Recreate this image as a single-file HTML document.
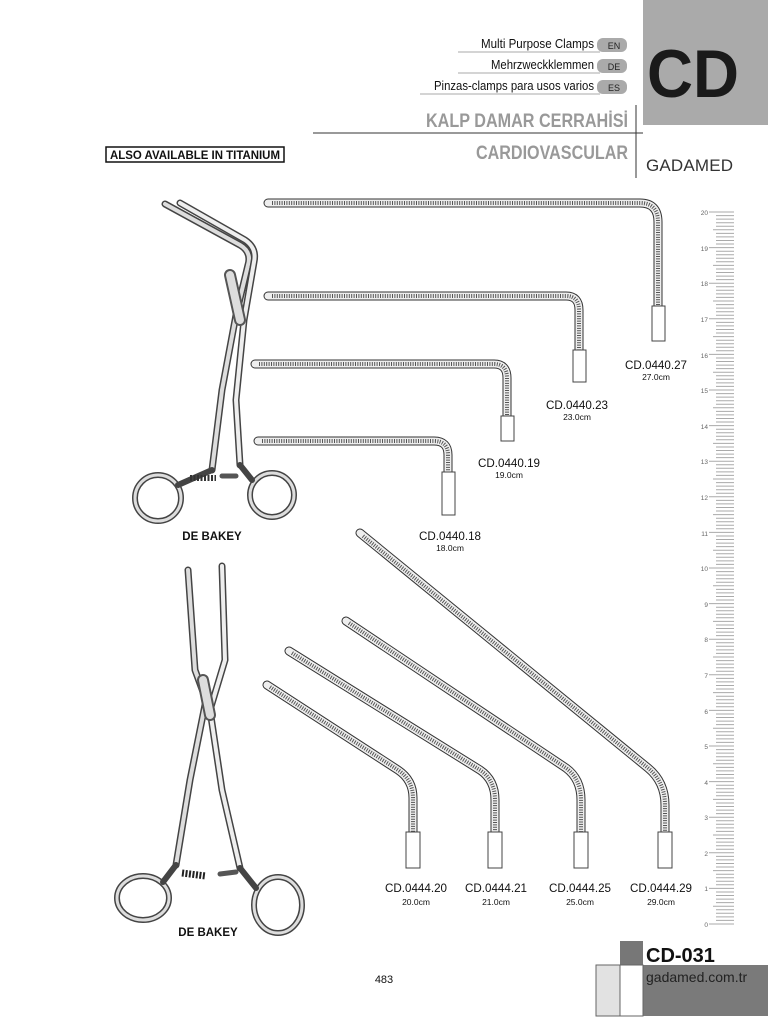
<!DOCTYPE html>
<html><head><meta charset="utf-8"><style>
body{margin:0;background:#fff}
svg{display:block}
text{font-family:"Liberation Sans",sans-serif}
</style></head><body>
<svg width="768" height="1018" viewBox="0 0 768 1018" xmlns="http://www.w3.org/2000/svg">
<!-- header -->
<rect x="643" y="0" width="125" height="125" fill="#aaa"/>
<text x="647" y="97" font-size="68" font-weight="bold" fill="#1a1a1a" textLength="92" lengthAdjust="spacingAndGlyphs">CD</text>
<g font-size="13" fill="#111" text-anchor="end">
<text x="594" y="48" textLength="113" lengthAdjust="spacingAndGlyphs">Multi Purpose Clamps</text>
<text x="594" y="69" textLength="103" lengthAdjust="spacingAndGlyphs">Mehrzweckklemmen</text>
<text x="594" y="90" textLength="160" lengthAdjust="spacingAndGlyphs">Pinzas-clamps para usos varios</text>
</g>
<g stroke="#aaa" stroke-width="1"><line x1="458" y1="52" x2="600" y2="52"/><line x1="458" y1="73" x2="600" y2="73"/><line x1="420" y1="94" x2="600" y2="94"/></g>
<g fill="#aaa"><rect x="597" y="38" width="30" height="14" rx="6"/><rect x="597" y="59" width="30" height="14" rx="6"/><rect x="597" y="80" width="30" height="14" rx="6"/></g>
<g font-size="9" fill="#222" text-anchor="middle"><text x="614" y="49">EN</text><text x="614" y="70">DE</text><text x="614" y="91">ES</text></g>
<line x1="636" y1="105" x2="636" y2="178" stroke="#333" stroke-width="1"/>
<line x1="313" y1="133" x2="643" y2="133" stroke="#333" stroke-width="1"/>
<text x="628" y="127" font-size="19" font-weight="bold" fill="#999" text-anchor="end" textLength="202" lengthAdjust="spacingAndGlyphs">KALP DAMAR CERRAHİSİ</text>
<text x="628" y="159" font-size="19" font-weight="bold" fill="#999" text-anchor="end" textLength="152" lengthAdjust="spacingAndGlyphs">CARDIOVASCULAR</text>
<text x="646" y="171" font-size="17" fill="#333" textLength="87" lengthAdjust="spacing">GADAMED</text>
<rect x="106" y="147" width="178" height="15" fill="none" stroke="#111" stroke-width="1.5"/>
<text x="195" y="159" font-size="11.5" font-weight="bold" fill="#111" text-anchor="middle" textLength="170" lengthAdjust="spacingAndGlyphs">ALSO AVAILABLE IN TITANIUM</text>

<!-- clamps -->
<g fill="none" stroke-linecap="round">
<path d="M268 203 H640 Q658 203 658 222 V306" stroke="#333" stroke-width="9"/>
<path d="M268 203 H640 Q658 203 658 222 V306" stroke="#eee" stroke-width="7"/>
<path d="M272 203 H640 Q658 203 658 222 V306" stroke="#555" stroke-width="4" stroke-dasharray="1 1.4" stroke-linecap="butt"/>
<path d="M268 296 H566 Q579 296 579 310 V350" stroke="#333" stroke-width="9"/>
<path d="M268 296 H566 Q579 296 579 310 V350" stroke="#eee" stroke-width="7"/>
<path d="M272 296 H566 Q579 296 579 310 V350" stroke="#555" stroke-width="4" stroke-dasharray="1 1.4" stroke-linecap="butt"/>
<path d="M255 364 H494 Q507 364 507 378 V416" stroke="#333" stroke-width="9"/>
<path d="M255 364 H494 Q507 364 507 378 V416" stroke="#eee" stroke-width="7"/>
<path d="M259 364 H494 Q507 364 507 378 V416" stroke="#555" stroke-width="4" stroke-dasharray="1 1.4" stroke-linecap="butt"/>
<path d="M258 441 H434 Q448 441 448 455 V472" stroke="#333" stroke-width="9"/>
<path d="M258 441 H434 Q448 441 448 455 V472" stroke="#eee" stroke-width="7"/>
<path d="M262 441 H434 Q448 441 448 455 V472" stroke="#555" stroke-width="4" stroke-dasharray="1 1.4" stroke-linecap="butt"/>

<path d="M360 533 L648 768 Q665 782 665 805 V832" stroke="#333" stroke-width="9"/>
<path d="M360 533 L648 768 Q665 782 665 805 V832" stroke="#eee" stroke-width="7"/>
<path d="M363 536 L648 768 Q665 782 665 805 V832" stroke="#555" stroke-width="4" stroke-dasharray="1 1.4" stroke-linecap="butt"/>
<path d="M346 621 L566 768 Q581 779 581 800 V832" stroke="#333" stroke-width="9"/>
<path d="M346 621 L566 768 Q581 779 581 800 V832" stroke="#eee" stroke-width="7"/>
<path d="M349 623 L566 768 Q581 779 581 800 V832" stroke="#555" stroke-width="4" stroke-dasharray="1 1.4" stroke-linecap="butt"/>
<path d="M289 651 L480 770 Q495 780 495 800 V832" stroke="#333" stroke-width="9"/>
<path d="M289 651 L480 770 Q495 780 495 800 V832" stroke="#eee" stroke-width="7"/>
<path d="M292 653 L480 770 Q495 780 495 800 V832" stroke="#555" stroke-width="4" stroke-dasharray="1 1.4" stroke-linecap="butt"/>
<path d="M267 685 L398 770 Q413 780 413 798 V832" stroke="#333" stroke-width="9"/>
<path d="M267 685 L398 770 Q413 780 413 798 V832" stroke="#eee" stroke-width="7"/>
<path d="M270 687 L398 770 Q413 780 413 798 V832" stroke="#555" stroke-width="4" stroke-dasharray="1 1.4" stroke-linecap="butt"/>
</g>
<g fill="#fff" stroke="#444" stroke-width="1">
<rect x="652" y="306" width="13" height="35"/>
<rect x="573" y="350" width="13" height="32"/>
<rect x="501" y="416" width="13" height="25"/>
<rect x="442" y="472" width="13" height="43"/>
<rect x="658" y="832" width="14" height="36"/>
<rect x="574" y="832" width="14" height="36"/>
<rect x="488" y="832" width="14" height="36"/>
<rect x="406" y="832" width="14" height="36"/>
</g>
<g text-anchor="middle" fill="#111">
<text x="656" y="369" font-size="12" textLength="62" lengthAdjust="spacingAndGlyphs">CD.0440.27</text><text x="656" y="380" font-size="8.5">27.0cm</text>
<text x="577" y="409" font-size="12" textLength="62" lengthAdjust="spacingAndGlyphs">CD.0440.23</text><text x="577" y="420" font-size="8.5">23.0cm</text>
<text x="509" y="467" font-size="12" textLength="62" lengthAdjust="spacingAndGlyphs">CD.0440.19</text><text x="509" y="478" font-size="8.5">19.0cm</text>
<text x="450" y="540" font-size="12" textLength="62" lengthAdjust="spacingAndGlyphs">CD.0440.18</text><text x="450" y="551" font-size="8.5">18.0cm</text>
<text x="416" y="892" font-size="12" textLength="62" lengthAdjust="spacingAndGlyphs">CD.0444.20</text><text x="416" y="905" font-size="8.5">20.0cm</text>
<text x="496" y="892" font-size="12" textLength="62" lengthAdjust="spacingAndGlyphs">CD.0444.21</text><text x="496" y="905" font-size="8.5">21.0cm</text>
<text x="580" y="892" font-size="12" textLength="62" lengthAdjust="spacingAndGlyphs">CD.0444.25</text><text x="580" y="905" font-size="8.5">25.0cm</text>
<text x="661" y="892" font-size="12" textLength="62" lengthAdjust="spacingAndGlyphs">CD.0444.29</text><text x="661" y="905" font-size="8.5">29.0cm</text>
</g>

<!-- forceps top -->
<g fill="none" stroke-linecap="round" stroke-linejoin="round">
<path d="M165 204 L240 245 Q252 252 248 265 L236 315 L222 390 L212 470" stroke="#444" stroke-width="7"/>
<path d="M165 204 L240 245 Q252 252 248 265 L236 315 L222 390 L212 470" stroke="#ddd" stroke-width="4"/>
<path d="M180 203 L245 240 Q257 248 254 262 L244 320 L236 400 L240 465" stroke="#444" stroke-width="7"/>
<path d="M180 203 L245 240 Q257 248 254 262 L244 320 L236 400 L240 465" stroke="#eee" stroke-width="4"/>
<path d="M230 275 L240 320" stroke="#555" stroke-width="12"/>
<path d="M230 275 L240 320" stroke="#ddd" stroke-width="8"/>
<circle cx="158" cy="498" r="23" stroke="#444" stroke-width="6"/><circle cx="158" cy="498" r="23" stroke="#ddd" stroke-width="3"/>
<circle cx="272" cy="495" r="22" stroke="#444" stroke-width="6"/><circle cx="272" cy="495" r="22" stroke="#ddd" stroke-width="3"/>
<path d="M178 485 L212 470" stroke="#444" stroke-width="6"/>
<path d="M252 480 L240 465" stroke="#444" stroke-width="6"/>
<path d="M190 478 L216 478" stroke="#333" stroke-width="6" stroke-dasharray="2 1.5" stroke-linecap="butt"/>
<path d="M222 476 L236 476" stroke="#555" stroke-width="5"/>

<!-- forceps bottom -->
<path d="M188 570 L195 670 L206 700 L190 780 L176 865" stroke="#444" stroke-width="7"/>
<path d="M188 570 L195 670 L206 700 L190 780 L176 865" stroke="#ddd" stroke-width="4"/>
<path d="M222 566 L225 660 L210 710 L222 790 L240 868" stroke="#444" stroke-width="7"/>
<path d="M222 566 L225 660 L210 710 L222 790 L240 868" stroke="#eee" stroke-width="4"/>
<path d="M203 680 L210 715" stroke="#555" stroke-width="12"/>
<path d="M203 680 L210 715" stroke="#ddd" stroke-width="8"/>
<ellipse cx="143" cy="898" rx="26" ry="22" stroke="#444" stroke-width="6"/><ellipse cx="143" cy="898" rx="26" ry="22" stroke="#ddd" stroke-width="3"/>
<ellipse cx="278" cy="905" rx="24" ry="28" stroke="#444" stroke-width="6"/><ellipse cx="278" cy="905" rx="24" ry="28" stroke="#ddd" stroke-width="3"/>
<path d="M163 882 L176 865" stroke="#444" stroke-width="6"/>
<path d="M256 888 L240 868" stroke="#444" stroke-width="6"/>
<path d="M182 873 L206 876" stroke="#222" stroke-width="7" stroke-dasharray="2 1.5" stroke-linecap="butt"/>
<path d="M220 874 L236 872" stroke="#555" stroke-width="5"/>
</g>
<text x="212" y="540" font-size="11.5" font-weight="bold" fill="#111" text-anchor="middle">DE BAKEY</text>
<text x="208" y="936" font-size="11.5" font-weight="bold" fill="#111" text-anchor="middle">DE BAKEY</text>

<!-- ruler -->
<g id="ruler" stroke="#aaa" stroke-width="1"></g>
<g font-size="6.5" fill="#666" text-anchor="end" font-family="Liberation Serif">
<text x="708" y="215">20</text><text x="708" y="251">19</text><text x="708" y="286">18</text><text x="708" y="322">17</text><text x="708" y="358">16</text><text x="708" y="393">15</text><text x="708" y="429">14</text><text x="708" y="464">13</text><text x="708" y="500">12</text><text x="708" y="536">11</text><text x="708" y="571">10</text><text x="708" y="607">9</text><text x="708" y="642">8</text><text x="708" y="678">7</text><text x="708" y="714">6</text><text x="708" y="749">5</text><text x="708" y="785">4</text><text x="708" y="820">3</text><text x="708" y="856">2</text><text x="708" y="891">1</text><text x="708" y="927">0</text>
</g>

<!-- footer -->
<text x="384" y="983" font-size="11" fill="#111" text-anchor="middle">483</text>
<rect x="620" y="941" width="23" height="24" fill="#777"/>
<rect x="643" y="941" width="125" height="24" fill="#fff"/>
<text x="646" y="962" font-size="20" font-weight="bold" fill="#111">CD-031</text>
<rect x="643" y="965" width="125" height="51" fill="#7a7a7a"/>
<text x="646" y="982" font-size="14" fill="#222">gadamed.com.tr</text>
<rect x="596" y="965" width="24" height="51" fill="#e2e2e2" stroke="#666" stroke-width="1"/>
<rect x="620" y="965" width="23" height="51" fill="#fff" stroke="#666" stroke-width="1"/>
</svg>
<script>
var g=document.getElementById('ruler'),s='';
for(var i=0;i<=200;i++){var y=924-i*3.56;var x1=(i%10==0)?709:(i%5==0?713:716);
s+='<line x1="'+x1+'" y1="'+y.toFixed(1)+'" x2="734" y2="'+y.toFixed(1)+'"/>';}
g.innerHTML=s;
</script>
</body></html>
